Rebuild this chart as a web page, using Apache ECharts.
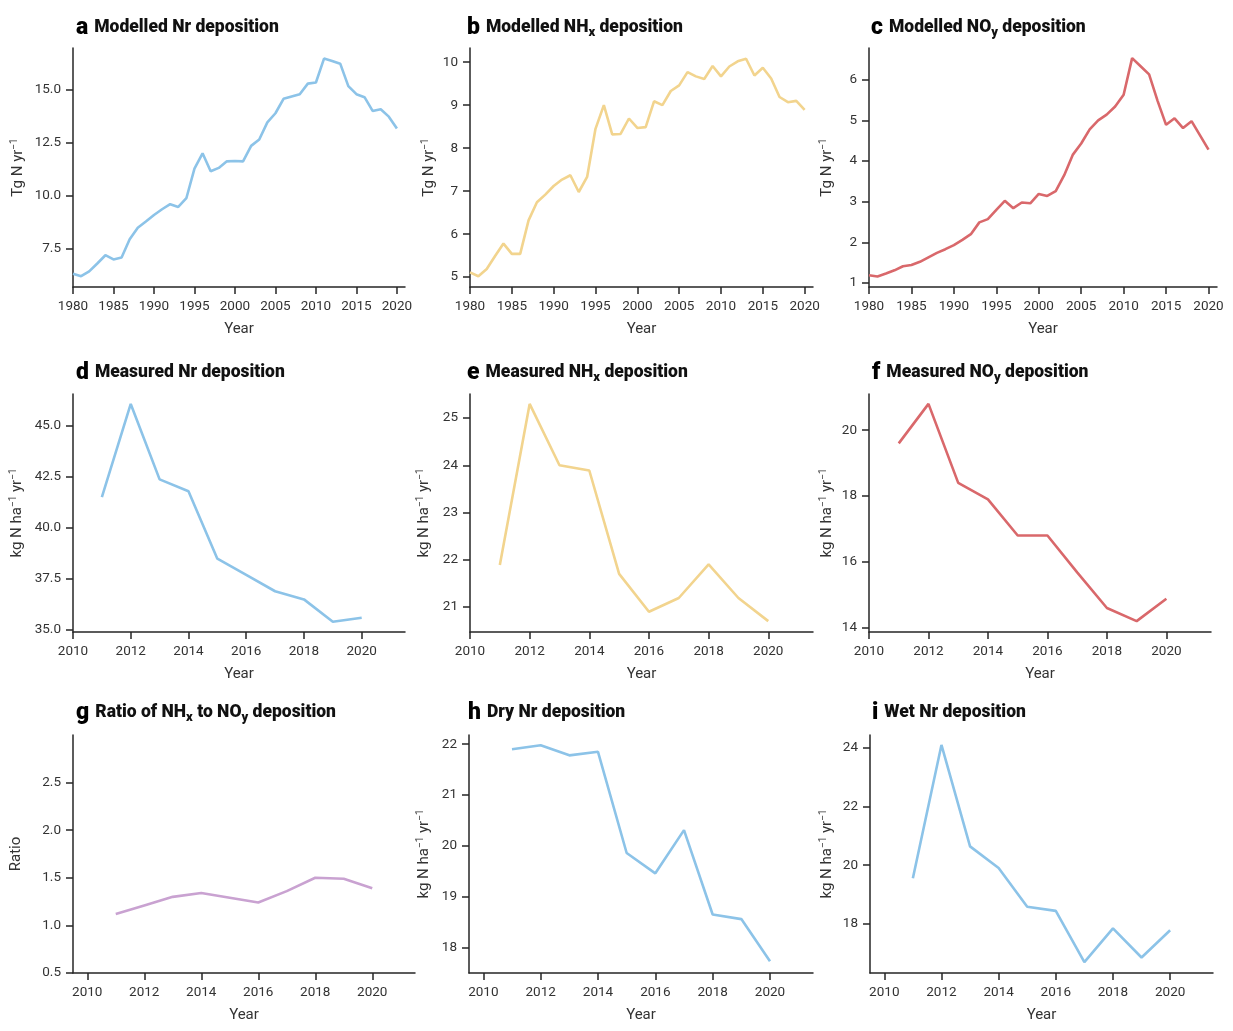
<!DOCTYPE html>
<html>
<head>
<meta charset="utf-8">
<title>Nr deposition</title>
<script src="https://cdn.jsdelivr.net/npm/echarts@6/dist/echarts.min.js"></script>
<style>
    html, body { margin: 0; padding: 0; background: #fff; }
    #chart { width: 1233px; height: 1031px; }
</style>
</head>
<body>
<div id="chart"></div>
<script>
// ---- data ----
const yearsModelled = [1980, 1981, 1982, 1983, 1984, 1985, 1986, 1987, 1988, 1989,
    1990, 1991, 1992, 1993, 1994, 1995, 1996, 1997, 1998, 1999,
    2000, 2001, 2002, 2003, 2004, 2005, 2006, 2007, 2008, 2009,
    2010, 2011, 2012, 2013, 2014, 2015, 2016, 2017, 2018, 2019, 2020]
const yearsMeasured = [2011, 2012, 2013, 2014, 2015, 2016, 2017, 2018, 2019, 2020]

// Tg N yr-1
const modelledNr = [6.31, 6.19, 6.42, 6.79, 7.18, 6.98, 7.07, 7.93, 8.48, 8.77,
    9.08, 9.35, 9.59, 9.46, 9.87, 11.27, 11.99, 11.14, 11.30, 11.61,
    11.63, 11.61, 12.34, 12.64, 13.45, 13.88, 14.56, 14.67, 14.78, 15.28,
    15.33, 16.46, 16.35, 16.22, 15.16, 14.78, 14.64, 13.99, 14.07, 13.72, 13.16]
const modelledNHx = [5.11, 5.02, 5.19, 5.49, 5.78, 5.54, 5.54, 6.32, 6.74, 6.92,
    7.12, 7.27, 7.37, 6.98, 7.33, 8.45, 9.00, 8.32, 8.33, 8.69,
    8.47, 8.49, 9.09, 9.00, 9.33, 9.46, 9.77, 9.67, 9.61, 9.91,
    9.67, 9.90, 10.02, 10.08, 9.69, 9.87, 9.62, 9.19, 9.07, 9.10, 8.89]
const modelledNOy = [1.19, 1.16, 1.23, 1.31, 1.41, 1.44, 1.52, 1.63, 1.74, 1.83,
    1.93, 2.06, 2.20, 2.49, 2.57, 2.80, 3.02, 2.84, 2.98, 2.96,
    3.19, 3.14, 3.26, 3.65, 4.15, 4.43, 4.78, 5.00, 5.14, 5.34,
    5.63, 6.53, 6.33, 6.13, 5.48, 4.89, 5.05, 4.81, 4.98, 4.63, 4.28]

// kg N ha-1 yr-1
const measuredNr = [41.51, 46.08, 42.38, 41.80, 38.49, 37.69, 36.89, 36.49, 35.39, 35.59]
const measuredNHx = [21.89, 25.30, 24.00, 23.89, 21.70, 20.90, 21.19, 21.90, 21.19, 20.70]
const measuredNOy = [19.60, 20.80, 18.40, 17.90, 16.80, 16.80, 15.68, 14.60, 14.20, 14.88]
const ratioNHxNOy = [1.12, 1.21, 1.30, 1.34, 1.29, 1.24, 1.36, 1.50, 1.49, 1.39]
const dryNr = [21.90, 21.98, 21.78, 21.85, 19.86, 19.46, 20.31, 18.65, 18.56, 17.73]
const wetNr = [19.55, 24.10, 20.64, 19.90, 18.58, 18.44, 16.69, 17.84, 16.85, 17.78]

// tick labels
const xTicksModelled = [1980, 1985, 1990, 1995, 2000, 2005, 2010, 2015, 2020]
const xTicksMeasured = [2010, 2012, 2014, 2016, 2018, 2020]
const yTicksA = [7.5, 10, 12.5, 15]
const yTicksB = [5, 6, 7, 8, 9, 10]
const yTicksC = [1, 2, 3, 4, 5, 6]
const yTicksD = [35, 37.5, 40, 42.5, 45]
const yTicksE = [21, 22, 23, 24, 25]
const yTicksF = [14, 16, 18, 20]
const yTicksG = [0.5, 1, 1.5, 2, 2.5]
const yTicksH = [18, 19, 20, 21, 22]
const yTicksI = [18, 20, 22, 24]

// ---- styling ----
const FONT = 'Roboto, "Noto Sans", sans-serif'
const AXIS_COLOR = '#262626'
const TEXT_COLOR = '#333'
const BLUE = '#8cc3e8'
const YELLOW = '#f2d48e'
const RED = '#d9686b'
const PURPLE = '#c9a2d1'
// 轴名，奇数位为上标
const UNIT_TG = ['Tg N yr', '−1']
const UNIT_KG = ['kg N ha', '−1', ' yr', '−1']
const UNIT_RATIO = ['Ratio']

// panel layout: grid box in px, title anchor, axis extents
const panels = [
    {id: 'a', title: ['Modelled Nr deposition'], tl: 76, tt: 17,
        grid: [73, 48, 332, 239], x: yearsModelled, y: modelledNr, color: BLUE,
        xr: [1980, 2021], xt: xTicksModelled, yr: [5.68, 16.96], yt: yTicksA, dec: 1, yname: UNIT_TG, ygap: 46},
    {id: 'b', title: ['Modelled NH', 'x', ' deposition'], tl: 467, tt: 17,
        grid: [470, 48, 343, 239], x: yearsModelled, y: modelledNHx, color: YELLOW,
        xr: [1980, 2021], xt: xTicksModelled, yr: [4.77, 10.33], yt: yTicksB, dec: 0, yname: UNIT_TG, ygap: 32},
    {id: 'c', title: ['Modelled NO', 'y', ' deposition'], tl: 871, tt: 17,
        grid: [869, 48, 348, 239], x: yearsModelled, y: modelledNOy, color: RED,
        xr: [1980, 2021], xt: xTicksModelled, yr: [0.9, 6.78], yt: yTicksC, dec: 0, yname: UNIT_TG, ygap: 33},
    {id: 'd', title: ['Measured Nr deposition'], tl: 76, tt: 362,
        grid: [73, 394, 332, 238], x: yearsMeasured, y: measuredNr, color: BLUE,
        xr: [2010, 2021.5], xt: xTicksMeasured, yr: [34.89, 46.57], yt: yTicksD, dec: 1, yname: UNIT_KG, ygap: 47},
    {id: 'e', title: ['Measured NH', 'x', ' deposition'], tl: 467, tt: 362,
        grid: [470, 394, 343, 238], x: yearsMeasured, y: measuredNHx, color: YELLOW,
        xr: [2010, 2021.5], xt: xTicksMeasured, yr: [20.47, 25.51], yt: yTicksE, dec: 0, yname: UNIT_KG, ygap: 37},
    {id: 'f', title: ['Measured NO', 'y', ' deposition'], tl: 872, tt: 362,
        grid: [869, 394, 342, 238], x: yearsMeasured, y: measuredNOy, color: RED,
        xr: [2010, 2021.5], xt: xTicksMeasured, yr: [13.87, 21.1], yt: yTicksF, dec: 0, yname: UNIT_KG, ygap: 33},
    {id: 'g', title: ['Ratio of NH', 'x', ' to NO', 'y', ' deposition'], tl: 76, tt: 702,
        grid: [73, 735, 342, 238], x: yearsMeasured, y: ratioNHxNOy, color: PURPLE,
        xr: [2009.5, 2021.5], xt: xTicksMeasured, yr: [0.5, 3.0], yt: yTicksG, dec: 1, yname: UNIT_RATIO, ygap: 48},
    {id: 'h', title: ['Dry Nr deposition'], tl: 468, tt: 702,
        grid: [469, 735, 344, 238], x: yearsMeasured, y: dryNr, color: BLUE,
        xr: [2009.5, 2021.5], xt: xTicksMeasured, yr: [17.5, 22.18], yt: yTicksH, dec: 0, yname: UNIT_KG, ygap: 36},
    {id: 'i', title: ['Wet Nr deposition'], tl: 872, tt: 702,
        grid: [870, 735, 343, 238], x: yearsMeasured, y: wetNr, color: BLUE,
        xr: [2009.5, 2021.5], xt: xTicksMeasured, yr: [16.32, 24.44], yt: yTicksI, dec: 0, yname: UNIT_KG, ygap: 34}
]

const lineStyle = {color: AXIS_COLOR, width: 1.5}

const richText = function (parts, normal, alt) {
    return parts.map((part, i) => '{' + (i % 2 === 1 ? alt : normal) + '|' + part + '}').join('')
}

/**
 * 标题，奇数位为下标
 */
const buildTitle = function (p) {
    return {
        left: p.tl,
        top: p.tt,
        padding: 0,
        text: '{l|' + p.id + '}' + richText(p.title, 't', 's'),
        textStyle: {
            rich: {
                l: {fontSize: 23, fontWeight: 900, color: '#000', fontFamily: FONT, lineHeight: 22, padding: [0, 6, 0, 0]},
                t: {fontSize: 17.5, fontWeight: 900, color: '#111', fontFamily: FONT, lineHeight: 22},
                s: {fontSize: 13, fontWeight: 900, color: '#111', fontFamily: FONT, lineHeight: 12, verticalAlign: 'bottom'}
            }
        }
    }
}

const buildXAxis = function (p, i) {
    return {
        type: 'value',
        gridIndex: i,
        min: p.xr[0],
        max: p.xr[1],
        name: 'Year',
        nameLocation: 'middle',
        nameGap: 35,
        nameTextStyle: {fontSize: 15, color: TEXT_COLOR, fontFamily: FONT},
        axisLine: {show: true, onZero: false, lineStyle: lineStyle},
        axisTick: {show: true, length: 7, customValues: p.xt, lineStyle: lineStyle},
        axisLabel: {
            customValues: p.xt,
            margin: 13,
            fontSize: 13.5,
            color: TEXT_COLOR,
            fontFamily: FONT,
            formatter: function (v) {
                return String(v)
            }
        },
        splitLine: {show: false}
    }
}

const buildYAxis = function (p, i) {
    return {
        type: 'value',
        gridIndex: i,
        min: p.yr[0],
        max: p.yr[1],
        name: richText(p.yname, 'n', 'sup'),
        nameLocation: 'middle',
        nameGap: p.ygap,
        nameTextStyle: {
            fontSize: 15,
            color: TEXT_COLOR,
            fontFamily: FONT,
            rich: {
                n: {fontSize: 15, color: TEXT_COLOR, fontFamily: FONT, lineHeight: 18},
                sup: {fontSize: 10, color: TEXT_COLOR, fontFamily: FONT, lineHeight: 10, verticalAlign: 'top'}
            }
        },
        axisLine: {show: true, onZero: false, lineStyle: lineStyle},
        axisTick: {show: true, length: 7, customValues: p.yt, lineStyle: lineStyle},
        axisLabel: {
            customValues: p.yt,
            margin: 12,
            fontSize: 13.5,
            color: TEXT_COLOR,
            fontFamily: FONT,
            formatter: function (v) {
                return Number(v).toFixed(p.dec)
            }
        },
        splitLine: {show: false}
    }
}

const buildSeries = function (p, i) {
    return {
        type: 'line',
        xAxisIndex: i,
        yAxisIndex: i,
        data: p.x.map((yr, j) => [yr, p.y[j]]),
        showSymbol: false,
        symbol: 'none',
        lineStyle: {color: p.color, width: 2.6},
        itemStyle: {color: p.color},
        silent: true
    }
}

const dom = document.getElementById('chart')
const chart = echarts.init(dom, null, {renderer: 'canvas'})
chart.setOption({
    backgroundColor: '#fff',
    animation: false,
    title: panels.map(buildTitle),
    grid: panels.map(p => ({left: p.grid[0], top: p.grid[1], width: p.grid[2], height: p.grid[3], containLabel: false})),
    xAxis: panels.map(buildXAxis),
    yAxis: panels.map(buildYAxis),
    series: panels.map(buildSeries)
})
</script>
</body>
</html>
